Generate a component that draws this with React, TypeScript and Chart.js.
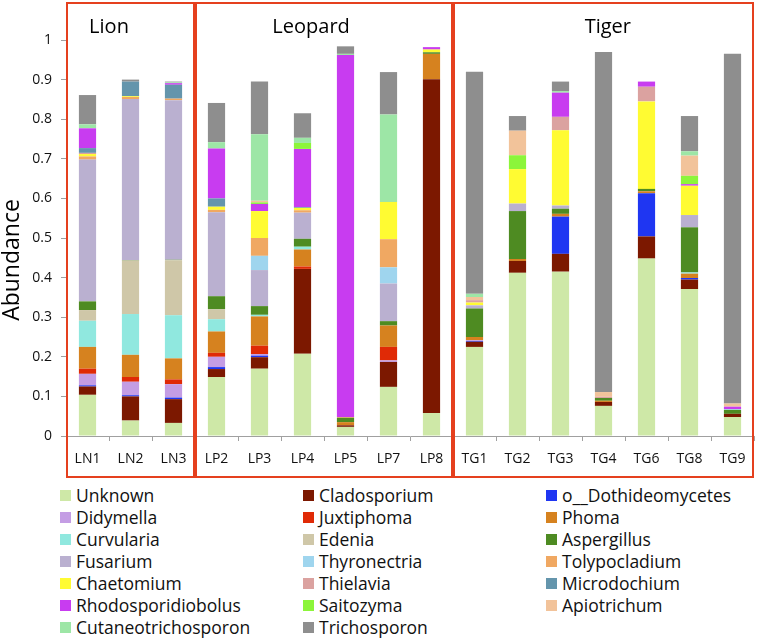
import React, { useEffect, useRef } from "react";
import { Chart, registerables } from "chart.js";

Chart.register(...registerables);

const categories = ["LN1", "LN2", "LN3", "LP2", "LP3", "LP4", "LP5", "LP7", "LP8", "TG1", "TG2", "TG3", "TG4", "TG6", "TG8", "TG9"];
const groupTitles = ["Lion", "Leopard", "Tiger"];
const groupSizes = [3, 6, 7];
const yTickValues = [0, 0.1, 0.2, 0.3, 0.4, 0.5, 0.6, 0.7, 0.8, 0.9, 1];
const yAxisTitle = "Abundance";

const seriesNames = [
  "Unknown", "Cladosporium", "o__Dothideomycetes",
  "Didymella", "Juxtiphoma", "Phoma",
  "Curvularia", "Edenia", "Aspergillus",
  "Fusarium", "Thyronectria", "Tolypocladium",
  "Chaetomium", "Thielavia", "Microdochium",
  "Rhodosporidiobolus", "Saitozyma", "Apiotrichum",
  "Cutaneotrichosporon", "Trichosporon",
];

const seriesColors = [
  "#CEE8A7", "#7C1800", "#1F36F2",
  "#C49DE4", "#E02A06", "#D6821F",
  "#90E8DF", "#CFC7A8", "#4E8B22",
  "#BAB0D0", "#9FD5EE", "#F0A862",
  "#FFFB32", "#DBA2A0", "#6495AC",
  "#C83CF0", "#8CF53A", "#F2C39A",
  "#9DE6A6", "#8E8E8E",
];

//                      LN1    LN2    LN3    LP2    LP3    LP4    LP5    LP7    LP8    TG1    TG2    TG3    TG4    TG6    TG8    TG9
const unknown =        [0.104, 0.039, 0.033, 0.149, 0.170, 0.208, 0.023, 0.124, 0.058, 0.225, 0.412, 0.415, 0.076, 0.448, 0.371, 0.048];
const cladosporium =   [0.021, 0.061, 0.060, 0.020, 0.029, 0.214, 0.004, 0.063, 0.843, 0.013, 0.030, 0.045, 0.010, 0.056, 0.024, 0.008];
const dothideomycetes =[0.003, 0.003, 0.004, 0.005, 0.004, 0,     0,     0,     0,     0.002, 0,     0.094, 0,     0.109, 0.004, 0];
const didymella =      [0.029, 0.034, 0.034, 0.026, 0.004, 0,     0,     0.004, 0,     0.002, 0,     0,     0,     0,     0,     0];
const juxtiphoma =     [0.013, 0.012, 0.012, 0.010, 0.021, 0.006, 0,     0.034, 0,     0,     0,     0,     0,     0,     0,     0];
const phoma =          [0.055, 0.056, 0.053, 0.054, 0.074, 0.043, 0.008, 0.054, 0.064, 0.008, 0.005, 0.007, 0.003, 0.005, 0.011, 0];
const curvularia =     [0.066, 0.103, 0.109, 0.031, 0.004, 0.007, 0,     0,     0,     0,     0,     0,     0,     0,     0.003, 0];
const edenia =         [0.027, 0.135, 0.139, 0.025, 0,     0,     0,     0,     0,     0,     0,     0,     0,     0,     0,     0];
const aspergillus =    [0.022, 0.001, 0.001, 0.033, 0.022, 0.020, 0.011, 0.011, 0.004, 0.072, 0.121, 0.013, 0.007, 0.006, 0.114, 0.010];
const fusarium =       [0.358, 0.407, 0.403, 0.212, 0.091, 0.066, 0,     0.095, 0,     0.008, 0.019, 0.008, 0,     0,     0.031, 0];
const thyronectria =   [0,     0,     0,     0,     0.036, 0,     0,     0.041, 0,     0,     0,     0,     0,     0,     0,     0.002];
const tolypocladium =  [0.008, 0.005, 0.004, 0.006, 0.045, 0.006, 0.002, 0.071, 0,     0,     0,     0,     0,     0,     0,     0];
const chaetomium =     [0.006, 0.002, 0,     0.008, 0.068, 0.006, 0,     0.094, 0.007, 0.007, 0.087, 0.190, 0,     0.221, 0.074, 0];
const thielavia =      [0.003, 0,     0,     0,     0,     0,     0,     0,     0,     0.006, 0,     0.034, 0.003, 0.037, 0,     0];
const microdochium =   [0.012, 0.037, 0.035, 0.021, 0,     0.002, 0,     0,     0,     0,     0,     0,     0,     0,     0,     0];
const rhodosporidiobolus = [0.050, 0, 0.004, 0.126, 0.018, 0.147, 0.914, 0,     0.006, 0,     0,     0.061, 0,     0.013, 0.004, 0.006];
const saitozyma =      [0,     0,     0,     0,     0.004, 0.015, 0,     0,     0,     0,     0.035, 0,     0,     0,     0.021, 0];
const apiotrichum =    [0,     0,     0,     0,     0.004, 0,     0,     0,     0,     0.008, 0.062, 0,     0.012, 0,     0.051, 0.008];
const cutaneotrichosporon = [0.010, 0, 0.002, 0.016, 0.168, 0.013, 0.003, 0.221, 0,     0.008, 0,     0.004, 0,     0,     0.011, 0];
const trichosporon =   [0.074, 0.005, 0.002, 0.099, 0.133, 0.062, 0.019, 0.107, 0,     0.561, 0.037, 0.024, 0.859, 0,     0.089, 0.883];

const seriesValues = [
  unknown, cladosporium, dothideomycetes,
  didymella, juxtiphoma, phoma,
  curvularia, edenia, aspergillus,
  fusarium, thyronectria, tolypocladium,
  chaetomium, thielavia, microdochium,
  rhodosporidiobolus, saitozyma, apiotrichum,
  cutaneotrichosporon, trichosporon,
];

const FONT = '"Open Sans", "DejaVu Sans", sans-serif';
const BOX_COLOR = "#E5401E";
// where each group title is centred, in category units
const titleAnchors = [0.5, 5.2, 12.1];

const groupPlugin = {
  id: "groupBoxes",
  afterDraw(chart: any) {
    const { ctx, scales } = chart;
    const x = scales.x;
    const step = x.getPixelForValue(1) - x.getPixelForValue(0);
    ctx.save();
    ctx.strokeStyle = BOX_COLOR;
    ctx.lineWidth = 2;
    let start = 0;
    groupSizes.forEach((n: number) => {
      const left = x.getPixelForValue(start) - step / 2 + 1;
      const right = x.getPixelForValue(start + n - 1) + step / 2 - 1;
      ctx.strokeRect(left, 3, right - left, 474);
      start += n;
    });
    ctx.fillStyle = "#000";
    ctx.font = `20px ${FONT}`;
    ctx.textAlign = "center";
    ctx.textBaseline = "alphabetic";
    groupTitles.forEach((t: string, g: number) => {
      const cx = x.getPixelForValue(0) + titleAnchors[g] * step;
      ctx.fillText(t, cx, 33);
    });
    // y axis title
    ctx.translate(19, 260);
    ctx.rotate(-Math.PI / 2);
    ctx.font = `23px ${FONT}`;
    ctx.fillText(yAxisTitle, 0, 0);
    ctx.restore();
  },
};

export default function App() {
  const ref = useRef<HTMLCanvasElement>(null);

  useEffect(() => {
    const canvas = ref.current;
    if (!canvas) return;
    const chart = new Chart(canvas, {
      type: "bar",
      data: {
        labels: categories,
        datasets: seriesNames.map((name, i) => ({
          label: name,
          data: seriesValues[i],
          backgroundColor: seriesColors[i],
          borderWidth: 0,
          barPercentage: 0.4,
          categoryPercentage: 1,
        })),
      },
      options: {
        responsive: false,
        animation: false,
        layout: { padding: { top: 40, right: 4, left: 0, bottom: 0 } },
        plugins: {
          legend: { display: false },
          tooltip: { enabled: false },
        },
        scales: {
          x: {
            stacked: true,
            grid: {
              display: true,
              drawOnChartArea: false,
              drawTicks: true,
              tickLength: 5,
              color: "#A0A0A0",
              offset: true,
            },
            border: { display: true, color: "#A0A0A0", width: 1 },
            ticks: {
              color: "#111",
              font: { family: FONT, size: 14 },
              padding: 10,
              maxRotation: 0,
              autoSkip: false,
            },
            afterFit(scale: any) {
              scale.height = 44;
            },
          },
          y: {
            stacked: true,
            min: 0,
            max: 1,
            afterBuildTicks(scale: any) {
              scale.ticks = yTickValues.map((v) => ({ value: v }));
            },
            ticks: {
              color: "#111",
              font: { family: FONT, size: 14 },
              padding: 9,
              callback: (v: any) => String(Math.round(Number(v) * 10) / 10),
            },
            grid: {
              display: true,
              drawOnChartArea: false,
              drawTicks: true,
              tickLength: 5,
              color: "#A0A0A0",
            },
            border: { display: true, color: "#A0A0A0", width: 1 },
            title: { display: false },
            afterFit(scale: any) {
              scale.width = 66;
            },
          },
        },
      },
      plugins: [groupPlugin],
    });
    return () => chart.destroy();
  }, []);

  return (
    <div
      style={{
        position: "absolute",
        left: 0,
        top: 0,
        width: 758,
        height: 639,
        background: "#fff",
        fontFamily: FONT,
        overflow: "hidden",
      }}
    >
      <canvas ref={ref} width={758} height={480} style={{ display: "block", width: 758, height: 480 }} />
      {seriesNames.map((name, i) => (
        <div
          key={name}
          style={{
            position: "absolute",
            left: 60 + (i % 3) * 243,
            top: 484 + Math.floor(i / 3) * 22,
            height: 22,
            display: "flex",
            alignItems: "center",
            whiteSpace: "nowrap",
          }}
        >
          <span style={{ display: "inline-block", width: 11, height: 11, background: seriesColors[i], marginRight: 5 }} />
          <span style={{ fontSize: 17.5, color: "#111", lineHeight: "22px" }}>{name}</span>
        </div>
      ))}
    </div>
  );
}
